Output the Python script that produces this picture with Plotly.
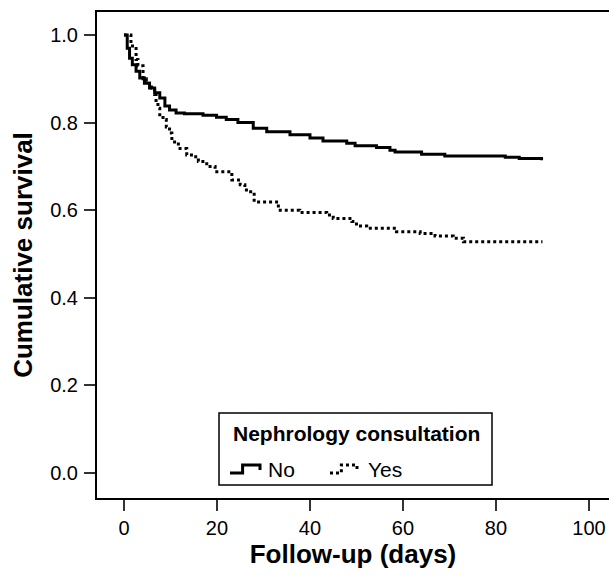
import plotly.graph_objects as go

# Kaplan-Meier estimates
no_days = [0, 0.7, 1.2, 1.8, 2.6, 3.4, 4.4, 5.5, 6.6, 7.7, 8.8, 9.8, 11.2, 13.0,
           17.0, 19.9, 22.0, 24.5, 27.8, 30.7, 35.7, 40.0, 42.8, 47.9, 49.7,
           54.3, 57.2, 58.3, 64.0, 69.0, 82.0, 85.0, 89.8]
no_surv = [1.0, 0.97, 0.947, 0.932, 0.917, 0.902, 0.89, 0.879, 0.868, 0.856,
           0.838, 0.829, 0.822, 0.82, 0.817, 0.812, 0.807, 0.80, 0.787, 0.779,
           0.772, 0.765, 0.758, 0.753, 0.747, 0.743, 0.737, 0.733, 0.728, 0.724,
           0.721, 0.718, 0.714]

yes_days = [0, 1.5, 2.6, 3.0, 4.1, 4.8, 5.9, 6.6, 6.9, 7.3, 7.7, 8.4, 9.1, 9.8,
            10.3, 11.7, 13.5, 14.9, 16.0, 17.8, 19.6, 23.2, 25.0, 26.0, 26.8,
            28.0, 33.2, 37.8, 43.6, 45.0, 49.0, 50.0, 52.2, 58.6, 63.7, 66.9,
            70.8, 73.0, 90.0]
yes_surv = [1.0, 0.975, 0.944, 0.93, 0.90, 0.89, 0.879, 0.864, 0.845, 0.833,
            0.818, 0.807, 0.79, 0.776, 0.756, 0.741, 0.726, 0.722, 0.711, 0.70,
            0.688, 0.669, 0.658, 0.646, 0.642, 0.619, 0.60, 0.595, 0.589, 0.581,
            0.574, 0.564, 0.559, 0.551, 0.547, 0.541, 0.536, 0.528, 0.528]

x_ticks = [0, 20, 40, 60, 80, 100]
y_ticks = [0.0, 0.2, 0.4, 0.6, 0.8, 1.0]
y_tick_text = ["0.0", "0.2", "0.4", "0.6", "0.8", "1.0"]

groups = ["No", "Yes"]
legend_title = "Nephrology consultation"

FONT = "Arial, Liberation Sans, sans-serif"

FIG_W, FIG_H = 609, 576
# plot area in page pixels (body margin is removed below)
PX_L, PX_R, PX_T, PX_B = 97, FIG_W, 12, 498


def px(x, y):
    """page pixel -> paper coords of the plot area"""
    return (x - PX_L) / (PX_R - PX_L), (PX_B - y) / (PX_B - PX_T)


def step_glyph(x0, y_low, y_high, w):
    pts = [(x0, y_low), (x0 + 0.42 * w, y_low), (x0 + 0.42 * w, y_high),
           (x0 + w, y_high), (x0 + w, y_low - 3)]
    pp = [px(*p) for p in pts]
    return "M " + " L ".join(f"{a:.5f},{b:.5f}" for a, b in pp)


fig = go.Figure()
fig.add_trace(go.Scatter(
    x=no_days, y=no_surv, name=groups[0], mode="lines",
    line=dict(shape="hv", color="black", width=3)))
fig.add_trace(go.Scatter(
    x=yes_days, y=yes_surv, name=groups[1], mode="lines",
    line=dict(shape="hv", color="black", width=3, dash="dot")))

# hand-made legend box, with step glyphs like the original
x0, y0 = px(219, 485)
x1, y1 = px(492, 413)
fig.add_shape(type="rect", xref="paper", yref="paper", x0=x0, y0=y0, x1=x1, y1=y1,
              line=dict(color="black", width=1.5), fillcolor="white", layer="above")
fig.add_shape(type="path", xref="paper", yref="paper",
              path=step_glyph(230, 473, 465, 30),
              line=dict(color="black", width=3), layer="above")
fig.add_shape(type="path", xref="paper", yref="paper",
              path=step_glyph(330, 473, 465, 27),
              line=dict(color="black", width=3, dash="dot"), layer="above")

tx, ty = px(231, 434)
fig.add_annotation(x=tx, y=ty, xref="paper", yref="paper", xanchor="left",
                   yanchor="middle", showarrow=False,
                   text=f"<b>{legend_title}</b>", font=dict(size=21))
for name, left in zip(groups, [266, 366]):
    ax, ay = px(left, 469)
    fig.add_annotation(x=ax, y=ay, xref="paper", yref="paper", xanchor="left",
                       yanchor="middle", showarrow=False, text=name,
                       font=dict(size=21))

fig.update_layout(
    width=FIG_W, height=FIG_H,
    margin=dict(l=PX_L, r=FIG_W - PX_R, t=PX_T, b=FIG_H - PX_B),
    plot_bgcolor="white", paper_bgcolor="white",
    font=dict(family=FONT, size=20, color="black"),
    showlegend=False,
)

fig.update_xaxes(
    range=[-5.8, -5.8 + (PX_R - PX_L) / 4.65], tickvals=x_ticks,
    ticks="outside", ticklen=11, tickwidth=1.5, tickcolor="#333",
    showline=True, linecolor="black", linewidth=2, mirror=True,
    showgrid=False, zeroline=False, automargin=False,
    title=dict(text="<b>Follow-up (days)</b>", font=dict(size=26), standoff=5),
)
fig.update_yaxes(
    range=[-0.057, 1.0525], tickvals=y_ticks, ticktext=y_tick_text,
    ticks="outside", ticklen=11, tickwidth=1.5, tickcolor="#333",
    ticklabelstandoff=2,
    showline=True, linecolor="black", linewidth=2, showgrid=False,
    zeroline=False, automargin=False,
    title=dict(text="<b>Cumulative survival</b>", font=dict(size=26), standoff=10),
)

# drop the default page margin and scrollbars so the figure sits at 0,0
fig.write_html(
    "out.html",
    config={"displayModeBar": False},
    post_script="document.body.style.margin='0';"
                "document.documentElement.style.overflow='hidden';",
)
